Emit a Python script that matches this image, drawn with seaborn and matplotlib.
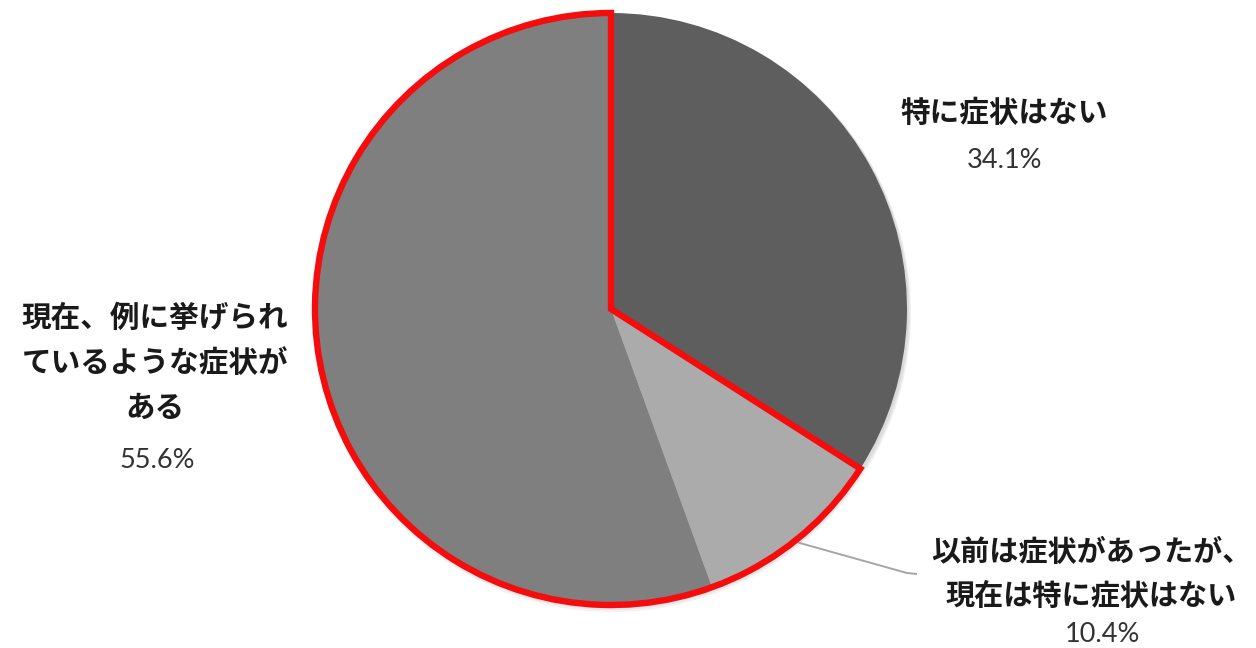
import numpy as np
import matplotlib
matplotlib.use("Agg")
import matplotlib.pyplot as plt
from matplotlib.patches import Wedge, Circle
import seaborn as sns

# ---- data ----
categories = ["特に症状はない",
              "以前は症状があったが、\n現在は特に症状はない",
              "現在、例に挙げられ\nているような症状が\nある"]
values = [34.1, 10.4, 55.6]
value_labels = ["34.1%", "10.4%", "55.6%"]
slice_colors = ["#5e5e5e", "#ababab", "#7f7f7f"]

sns.set_theme(style="white")
plt.rcParams['font.family'] = ['Noto Sans CJK JP', 'DejaVu Sans']

W, H = 1256, 648
fig = plt.figure(figsize=(W / 100, H / 100), dpi=100)
ax = fig.add_axes([0, 0, 1, 1])

cx, cy, R = 611, H - 309, 296
palette = sns.color_palette(slice_colors)

# soft shadow under the pie
for k, a in enumerate([0.10, 0.10, 0.10]):
    ax.add_patch(Circle((cx + 1, cy - 2 - k), R + 1 + k, color="#808080",
                        alpha=a, lw=0, zorder=0))

wedges, _ = ax.pie(values, colors=palette, startangle=90, counterclock=False,
                   center=(cx, cy), radius=R, frame=True,
                   wedgeprops=dict(linewidth=0, edgecolor="none"))
ax.set_xlim(0, W)
ax.set_ylim(0, H)
ax.set_aspect("equal")
ax.set_axis_off()
for w in wedges:
    w.set_zorder(2)

# red outline around the union of the last two slices
outline = Wedge((cx, cy), R, wedges[2].theta1, wedges[1].theta2,
                fill=False, edgecolor="#f50c0c", linewidth=4.6,
                joinstyle="miter", zorder=4)
ax.add_patch(outline)

# labels
name_kw = dict(fontsize=21.3, fontweight="bold", color="#1a1a1a",
               ha="center", va="center", linespacing=1.62, zorder=5)
pct_kw = dict(fontsize=19.5, color="#333333", ha="center", va="center",
              family=["Lato", "DejaVu Sans"], zorder=5)

# slice 1
ax.text(1004, H - 113, categories[0], **name_kw)
ax.text(1005, H - 160, value_labels[0], **pct_kw)

# slice 3 (left)
ax.text(155, H - 363, categories[2], **name_kw)
ax.text(157, H - 461, value_labels[2], **pct_kw)

# slice 2 (bottom right) with leader line
name_kw2 = dict(name_kw, fontsize=21)
ax.text(1091, H - 574, categories[1], **name_kw2)
ax.text(1102, H - 635, value_labels[1], **pct_kw)

mid = np.deg2rad((wedges[1].theta1 + wedges[1].theta2) / 2)
sx, sy = cx + R * 1.01 * np.cos(mid), cy + R * 1.01 * np.sin(mid)
ax.plot([sx, 907, 917], [sy, H - 573, H - 574], color="#a6a6a6", lw=1.4,
        zorder=3, solid_capstyle="butt")

fig.savefig("out.png", dpi=100, facecolor="white")
